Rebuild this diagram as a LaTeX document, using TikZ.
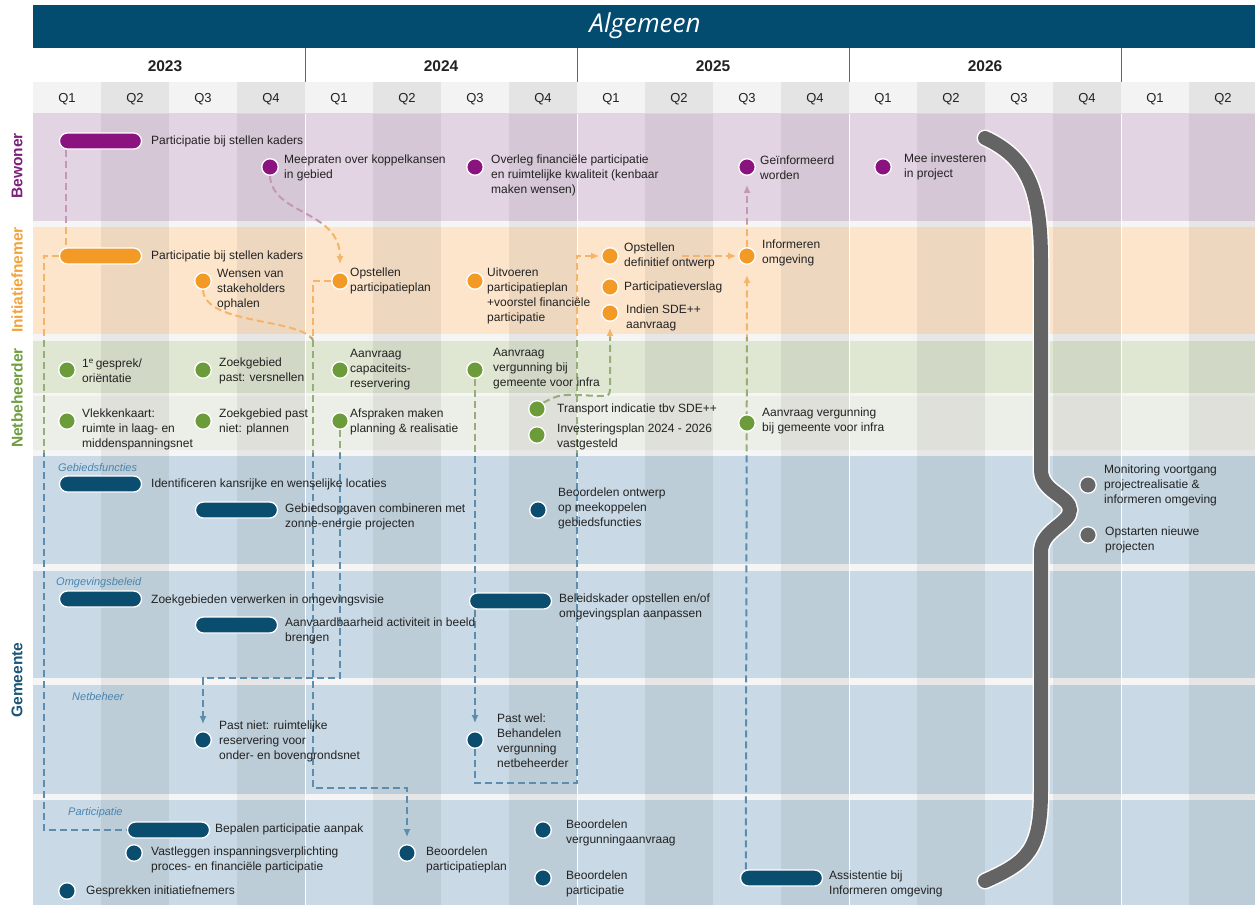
\documentclass[tikz,border=0pt]{standalone}
\usepackage{fontspec}
\setmainfont{Liberation Sans}
\newfontfamily\headfont{Open Sans}
\usetikzlibrary{arrows.meta}
\pgfdeclarelayer{bg}
\pgfdeclarelayer{lk}
\pgfsetlayers{bg,lk,main}
\definecolor{hdr}{HTML}{034B6F}
\definecolor{qhead}{HTML}{F3F3F3}
\definecolor{gapc}{HTML}{F5F5F5}
\definecolor{bwB}{HTML}{E3D4E4}
\definecolor{inB}{HTML}{FDE5CB}
\definecolor{nbBa}{HTML}{DFE7D3}
\definecolor{nbBb}{HTML}{ECEFE7}
\definecolor{gmB}{HTML}{C9DAE6}
\definecolor{cP}{HTML}{8A137F}
\definecolor{cO}{HTML}{F39A26}
\definecolor{cG}{HTML}{6C9B39}
\definecolor{cB}{HTML}{0B4D6F}
\definecolor{cK}{HTML}{666666}
\definecolor{tP}{HTML}{7E1F7C}
\definecolor{tO}{HTML}{F3A33B}
\definecolor{tG}{HTML}{6E9E3F}
\definecolor{tB}{HTML}{1B5577}
\definecolor{txt}{HTML}{222222}
\definecolor{subc}{HTML}{4A84AE}
\definecolor{lkM}{HTML}{C497B8}
\definecolor{lkO}{HTML}{F4B46A}
\definecolor{lkG}{HTML}{97AE7A}
\definecolor{lkB}{HTML}{5D8DAE}
\definecolor{brc}{HTML}{646464}
\newcommand\bandpath[2][]{%
  \begin{scope}\clip (0,0) rectangle (1255,224);\draw[lnk,draw=lkM,#1] #2;\end{scope}%
  \begin{scope}\clip (0,224) rectangle (1255,337);\draw[lnk,draw=lkO,#1] #2;\end{scope}%
  \begin{scope}\clip (0,337) rectangle (1255,453);\draw[lnk,draw=lkG,#1] #2;\end{scope}%
  \begin{scope}\clip (0,453) rectangle (1255,905);\draw[lnk,draw=lkB,#1] #2;\end{scope}}
\begin{document}
\begin{tikzpicture}[x=1pt,y=-1pt,
  dot/.style={circle,fill=#1,draw=white,line width=1.3pt,minimum size=16.5pt,inner sep=0pt},
  bar/.style={rectangle,rounded corners=7.9pt,fill=#1,draw=white,line width=1.3pt,minimum width=82pt,minimum height=16pt,inner sep=0pt},
  lbl/.style={anchor=west,align=left,inner sep=0pt,font=\fontsize{12}{15}\selectfont,text=txt},
  sub/.style={anchor=west,inner sep=0pt,font=\itshape\fontsize{11}{13}\selectfont,text=subc},
  side/.style={rotate=90,font=\bfseries\fontsize{15.5}{18}\selectfont},
  yr/.style={font=\bfseries\fontsize{15.5}{18}\selectfont,text=txt},
  qt/.style={font=\fontsize{13}{15}\selectfont,text=txt},
  lnk/.style={dash pattern=on 7pt off 4pt,line width=2pt},
  arr/.style={-{Latex[length=8pt,width=7pt]}}]
\useasboundingbox (0,0) rectangle (1255,905);
\begin{pgfonlayer}{bg}
\fill[white] (0,0) rectangle (1255,905);
\fill[hdr] (33,5) rectangle (1257,48);
\fill[gapc] (33,82) rectangle (1257,905);
\fill[qhead] (33,82) rectangle (1257,113);
\fill[bwB] (33,113) rectangle (1257,221);
\fill[inB] (33,227) rectangle (1257,334);
\fill[nbBa] (33,341) rectangle (1257,393);
\fill[nbBb] (33,396) rectangle (1257,450);
\fill[gmB] (33,456) rectangle (1257,564);
\fill[gmB] (33,571) rectangle (1257,678);
\fill[gmB] (33,685) rectangle (1257,794);
\fill[gmB] (33,800) rectangle (1257,905);
\foreach \i in {1,3,...,17} \fill[black,opacity=0.058] ({33+\i*68},82) rectangle ++(68,823);
\draw[black!15,line width=1pt] (33,113.5) -- (1257,113.5);
\foreach \x in {305,577,849,1121} {
  \draw[white,line width=1pt] (\x,114) -- (\x,905);
  \draw[black!60,line width=1pt] (\x,48) -- (\x,82);
}
\end{pgfonlayer}
% header texts
\node[font=\headfont\itshape\fontsize{26}{30}\selectfont,text=white] (title) at (645,26) {Algemeen};
\node[yr] (y23) at (165,66) {2023};
\node[yr] (y24) at (441,66) {2024};
\node[yr] (y25) at (713,66) {2025};
\node[yr] (y26) at (985,66) {2026};
\foreach \i/\q in {0/Q1,1/Q2,2/Q3,3/Q4,4/Q1,5/Q2,6/Q3,7/Q4,8/Q1,9/Q2,10/Q3,11/Q4,12/Q1,13/Q2,14/Q3,15/Q4,16/Q1,17/Q2}
  \node[qt] (q\i) at ({67+\i*68},99) {\q};
% side labels
\node[side,text=tP] (sBew) at (17,166) {Bewoner};
\node[side,text=tO] (sIni) at (17,280) {Initiatiefnemer};
\node[side,text=tG] (sNet) at (17,398) {Netbeheerder};
\node[side,text=tB] (sGem) at (17,680) {Gemeente};
% Bewoner
\node[bar=cP] (b1) at (100.5,141) {};
\node[lbl] (b1l) at (151,141) {Participatie bij stellen kaders};
\node[dot=cP] (b2) at (270,167) {};
\node[lbl] (b2l) at (284,168) {Meepraten over koppelkansen\\in gebied};
\node[dot=cP] (b3) at (475,167) {};
\node[lbl] (b3l) at (491,175) {Overleg financiële participatie\\en ruimtelijke kwaliteit (kenbaar\\maken wensen)};
\node[dot=cP] (b4) at (747,167) {};
\node[lbl] (b4l) at (760,168) {Geïnformeerd\\worden};
\node[dot=cP] (b5) at (883,167) {};
\node[lbl] (b5l) at (904,167) {Mee investeren\\in project};
% Initiatiefnemer
\node[bar=cO] (i1) at (100.5,256) {};
\node[lbl] (i1l) at (151,256) {Participatie bij stellen kaders};
\node[dot=cO] (i2) at (203,281) {};
\node[lbl] (i2l) at (217,290) {Wensen van\\stakeholders\\ophalen};
\node[dot=cO] (i3) at (340,281) {};
\node[lbl] (i3l) at (350,281) {Opstellen\\participatieplan};
\node[dot=cO] (i4) at (475,281) {};
\node[lbl] (i4l) at (487,296) {Uitvoeren\\participatieplan\\+voorstel financiële\\participatie};
\node[dot=cO] (i5) at (610,256) {};
\node[lbl] (i5l) at (624,256) {Opstellen\\definitief ontwerp};
\node[dot=cO] (i6) at (610,287) {};
\node[lbl] (i6l) at (624,287) {Participatieverslag};
\node[dot=cO] (i7) at (610,313) {};
\node[lbl] (i7l) at (626,318) {Indien SDE++\\aanvraag};
\node[dot=cO] (i8) at (747,256) {};
\node[lbl] (i8l) at (762,253) {Informeren\\omgeving};
% Netbeheerder
\node[dot=cG] (n1) at (67,370) {};
\node[lbl] (n1l) at (82,371) {1\textsuperscript{e}\,gesprek/\\oriëntatie};
\node[dot=cG] (n2) at (203,370) {};
\node[lbl] (n2l) at (219,371) {Zoekgebied\\past: versnellen};
\node[dot=cG] (n3) at (340,370) {};
\node[lbl] (n3l) at (350,370) {Aanvraag\\capaciteits-\\reservering};
\node[dot=cG] (n4) at (475,370) {};
\node[lbl] (n4l) at (493,369) {Aanvraag\\vergunning bij\\gemeente voor infra};
\node[dot=cG] (n5) at (67,421) {};
\node[lbl] (n5l) at (82,429) {Vlekkenkaart:\\ruimte in laag- en\\middenspanningsnet};
\node[dot=cG] (n6) at (203,421) {};
\node[lbl] (n6l) at (219,422) {Zoekgebied past\\niet: plannen};
\node[dot=cG] (n7) at (340,421) {};
\node[lbl] (n7l) at (350,422) {Afspraken maken\\planning \& realisatie};
\node[dot=cG] (n8) at (537,409) {};
\node[lbl] (n8l) at (557,409) {Transport indicatie tbv SDE++};
\node[dot=cG] (n9) at (537,435) {};
\node[lbl] (n9l) at (557,437) {Investeringsplan 2024 - 2026\\vastgesteld};
\node[dot=cG] (n10) at (747,423) {};
\node[lbl] (n10l) at (762,421) {Aanvraag vergunning\\bij gemeente voor infra};
% Gemeente - Gebiedsfuncties
\node[sub] (s1) at (58,468) {Gebiedsfuncties};
\node[bar=cB] (g1) at (100.5,484) {};
\node[lbl] (g1l) at (151,484) {Identificeren kansrijke en wenselijke locaties};
\node[bar=cB] (g2) at (236.5,510) {};
\node[lbl] (g2l) at (285,517) {Gebiedsopgaven combineren met\\zonne-energie projecten};
\node[dot=cB] (g3) at (538,510) {};
\node[lbl] (g3l) at (558,508) {Beoordelen ontwerp\\op meekoppelen\\gebiedsfuncties};
\node[dot=cK] (g4) at (1088,485) {};
\node[lbl] (g4l) at (1104,485) {Monitoring voortgang\\projectrealisatie \&\\informeren omgeving};
\node[dot=cK] (g5) at (1088,535) {};
\node[lbl] (g5l) at (1105,540) {Opstarten nieuwe\\projecten};
% Omgevingsbeleid
\node[sub] (s2) at (56,583) {Omgevingsbeleid};
\node[bar=cB] (o1) at (100.5,599) {};
\node[lbl] (o1l) at (151,600) {Zoekgebieden verwerken in omgevingsvisie};
\node[bar=cB] (o2) at (236.5,625) {};
\node[lbl] (o2l) at (285,631) {Aanvaardbaarheid activiteit in beeld\\brengen};
\node[bar=cB] (o3) at (510.5,601) {};
\node[lbl] (o3l) at (559,607) {Beleidskader opstellen en/of\\omgevingsplan aanpassen};
% Netbeheer
\node[sub] (s3) at (72,697) {Netbeheer};
\node[dot=cB] (m1) at (203,740) {};
\node[lbl] (m1l) at (219,741) {Past niet: ruimtelijke\\reservering voor\\onder- en bovengrondsnet};
\node[dot=cB] (m2) at (475,740) {};
\node[lbl] (m2l) at (497,741) {Past wel:\\Behandelen\\vergunning\\netbeheerder};
% Participatie
\node[sub] (s4) at (68,813) {Participatie};
\node[bar=cB] (p1) at (168.5,830) {};
\node[lbl] (p1l) at (215,829) {Bepalen participatie aanpak};
\node[dot=cB] (p2) at (134,853) {};
\node[lbl] (p2l) at (151,860) {Vastleggen inspanningsverplichting\\proces- en financiële participatie};
\node[dot=cB] (p3) at (67,891) {};
\node[lbl] (p3l) at (86,891) {Gesprekken initiatiefnemers};
\node[dot=cB] (p4) at (407,853) {};
\node[lbl] (p4l) at (426,860) {Beoordelen\\participatieplan};
\node[dot=cB] (p5) at (543,830) {};
\node[lbl] (p5l) at (566,833) {Beoordelen\\vergunningaanvraag};
\node[dot=cB] (p6) at (543,878) {};
\node[lbl] (p6l) at (566,884) {Beoordelen\\participatie};
\node[bar=cB] (p7) at (781.5,878) {};
\node[lbl] (p7l) at (829,884) {Assistentie bij\\Informeren omgeving};
% connectors
\coordinate (j1) at (313,788);
\coordinate (j2) at (203,678);
\coordinate (j4) at (577,783);
\coordinate (j5) at (313,340);
\coordinate (j6) at (598,396);
\coordinate (j7) at (610,384);
\coordinate (j8) at ([xshift=58pt]i5l.west);
\begin{pgfonlayer}{lk}
\bandpath{([xshift=7pt]b1.south west) -- ([xshift=7pt]i1.north west)}
\bandpath[arr,shorten >=8pt]{(b2.south) .. controls (272,215) and (340,210) .. (i3.north)}
\bandpath{(i1.west) -- ++(-15,0) |- (p1.west)}
\bandpath{(i2.south) .. controls (205,325) and (300,318) .. (j5)}
\bandpath[arr,shorten >=7pt]{(i3.west) -| (j1) -| (p4.north)}
\bandpath[arr,shorten >=7pt]{(n7.south) |- (j2) -- (m1.north)}
\bandpath[arr,shorten >=8pt]{(n4.south) -- (m2.north)}
\bandpath[arr,shorten >=2pt]{(m2.south) |- (j4) |- (i5.west)}
\bandpath[arr,shorten >=6pt]{(n8.north east) .. controls (560,394) .. (j6) .. controls (610,396) .. (j7) -- (i7.south)}
\bandpath[arr,shorten >=2pt]{(j8) -- (i8.west)}
\bandpath[arr,shorten >=9pt]{(i8.north) -- (b4.south)}
\bandpath[arr,shorten >=10pt]{([xshift=6pt]p7.north west) -- (i8.south)}
\def\bracepath{(985,138) .. controls (1028,158) and (1041,190) .. (1041,262) -- (1041,470) .. controls (1041,492) and (1070,496) .. (1070,510) .. controls (1070,524) and (1041,530) .. (1041,552) -- (1041,790) .. controls (1041,850) and (1028,862) .. (985,881)}
\draw[white,line width=17pt,line cap=round] \bracepath;
\draw[brc,line width=14pt,line cap=round] \bracepath;
\end{pgfonlayer}
\end{tikzpicture}
\end{document}
